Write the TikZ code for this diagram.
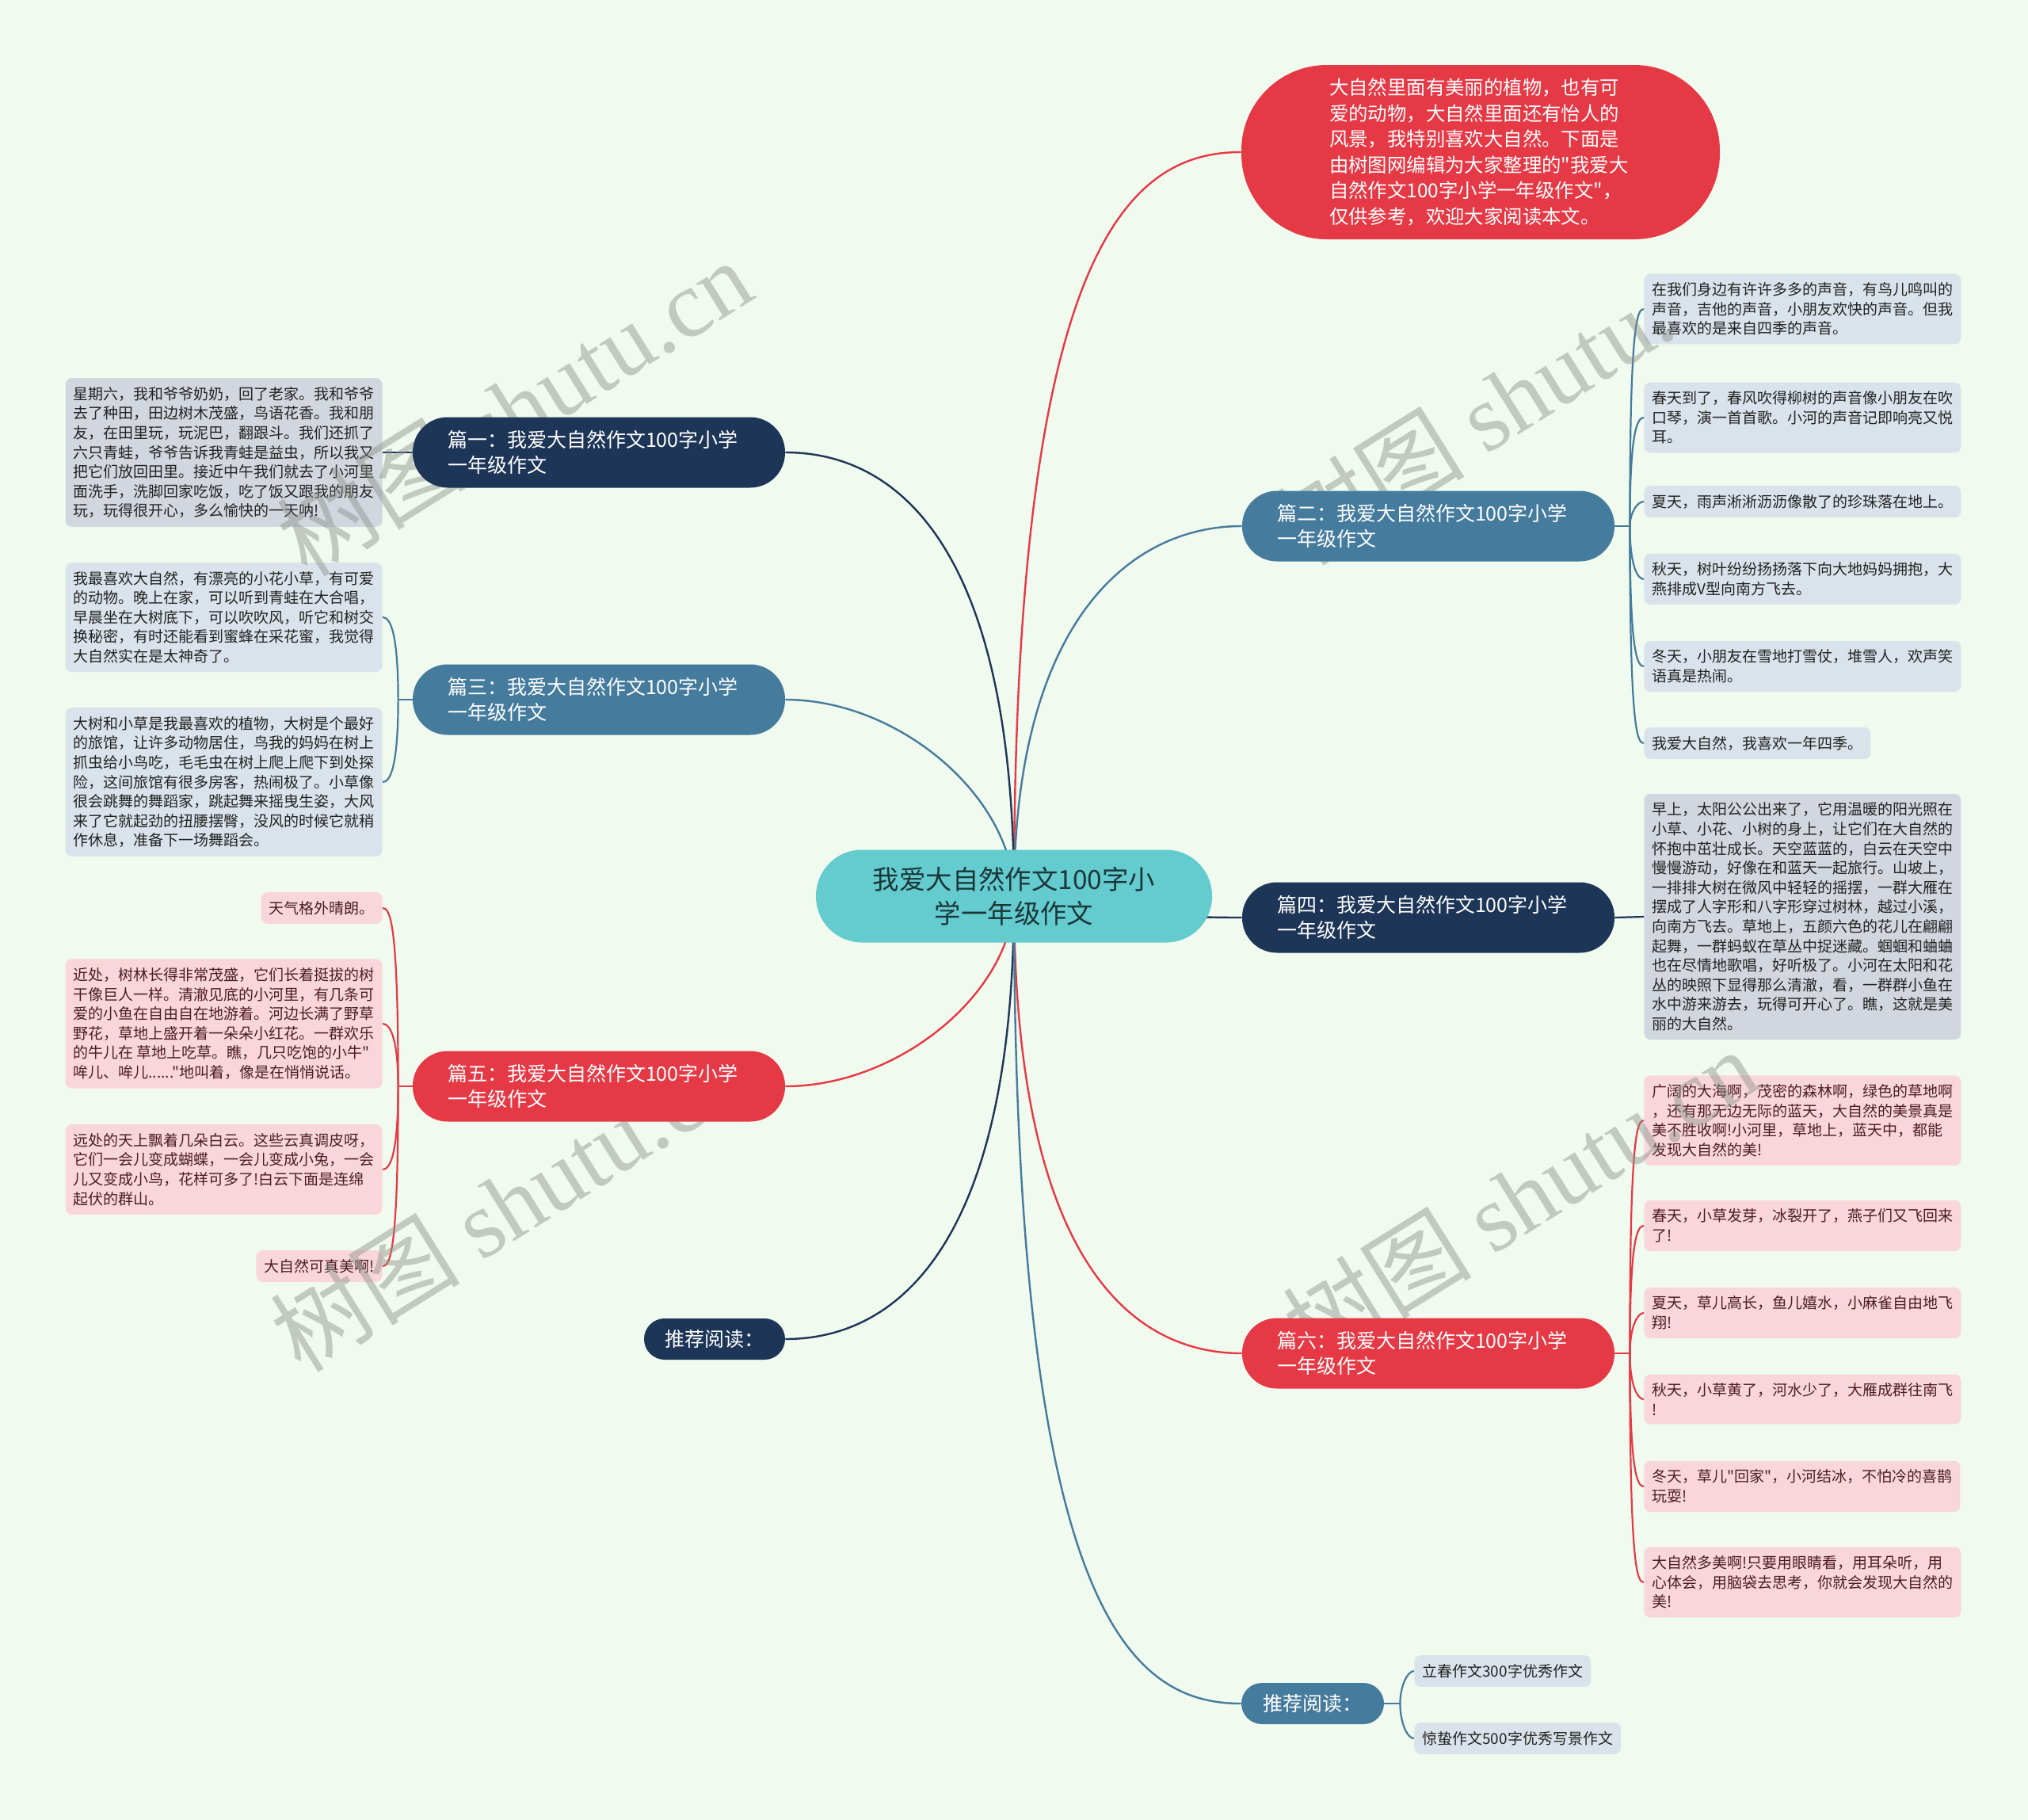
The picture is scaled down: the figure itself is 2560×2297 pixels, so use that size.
\documentclass[tikz,border=0pt]{standalone}
\usepackage{fontspec}
\setmainfont{Noto Sans CJK SC}
\newfontfamily\cjkfont{Noto Sans CJK SC}
\newfontfamily\wmserif{Liberation Serif}
\usetikzlibrary{calc}
\definecolor{bgc}{HTML}{F1FAEE}
\definecolor{navyc}{HTML}{1D3557}
\definecolor{steelc}{HTML}{457B9D}
\definecolor{redc}{HTML}{E63946}
\definecolor{rootc}{HTML}{64CBCE}
\definecolor{roottext}{HTML}{1C3739}
\definecolor{leafnavy}{HTML}{D2D7DF}
\definecolor{leafsteel}{HTML}{DAE3EB}
\definecolor{leafred}{HTML}{F9D6DB}
\definecolor{txtdark}{HTML}{222222}
\definecolor{txtred}{HTML}{4A1D23}
\definecolor{wmc}{HTML}{8A908A}
\pgfdeclarelayer{bgl}
\pgfdeclarelayer{edges}
\pgfdeclarelayer{wm}
\pgfdeclarelayer{top}
\pgfsetlayers{bgl,edges,main,wm,top}
\tikzset{
  leafbox/.style={rounded corners=4pt, inner xsep=5pt, inner ysep=5.5pt, align=left, font=\cjkfont\fontsize{9.5}{12.3}\selectfont},
  leafN/.style={leafbox, fill=leafnavy, text=txtdark},
  leafS/.style={leafbox, fill=leafsteel, text=txtdark},
  leafR/.style={leafbox, fill=leafred, text=txtred},
  branch/.style={rounded corners=22pt, text=white, minimum height=44.5pt, inner xsep=22pt, inner ysep=4pt, text width=191pt, align=left, font=\cjkfont\fontsize{12.5}{16.3}\selectfont},
  recbox/.style={rounded corners=13pt, text=white, minimum height=26pt, minimum width=89pt, inner xsep=4pt, inner ysep=2pt, align=center, font=\cjkfont\fontsize{12.5}{16.3}\selectfont},
  conn/.style={line width=1.2pt},
  sub/.style={line width=1.1pt},
  wmark/.style={text=wmc, text opacity=0.45, rotate=32, font=\cjkfont\fontsize{60}{60}\selectfont, inner sep=0pt},
}
\newcommand\mcurve[5]{\draw[#1,#2] let \p1=(#3), \p2=(#4) in (\p1) .. controls (\x1,{\y2+max(-#5,min(#5,0.5*((\y1)-(\y2))))}) and ({0.5*((\x1)+(\x2))},\y2) .. (\p2);}
\begin{document}
\cjkfont
\begin{tikzpicture}[x=0.5pt,y=-0.5pt]
\useasboundingbox (0,0) rectangle (2560,2297);
\begin{pgfonlayer}{bgl}
\fill[bgc] (0,0) rectangle (2560,2297);
\end{pgfonlayer}

\begin{pgfonlayer}{top}
\node[fill=rootc, text=roottext, rounded corners=29pt, minimum width=250pt, minimum height=58.5pt, align=center, font=\cjkfont\fontsize{16.7}{21.3}\selectfont] (root) at (1280,1131) {我爱大自然作文100字小\\学一年级作文};
\node[fill=redc, text=white, rounded corners=54pt, minimum height=110pt, inner xsep=55.5pt, inner ysep=6pt, text width=191pt, align=left, font=\cjkfont\fontsize{12.2}{16.3}\selectfont] (intro) at (1869,192) {大自然里面有美丽的植物，也有可\\爱的动物，大自然里面还有怡人的\\风景，我特别喜欢大自然。下面是\\由树图网编辑为大家整理的"我爱大\\自然作文100字小学一年级作文"，\\仅供参考，欢迎大家阅读本文。};
\node[branch, fill=navyc] (b1) at (756,571) {篇一：我爱大自然作文100字小学\\一年级作文};
\node[branch, fill=steelc] (b2) at (1803,664) {篇二：我爱大自然作文100字小学\\一年级作文};
\node[branch, fill=steelc] (b3) at (756,883) {篇三：我爱大自然作文100字小学\\一年级作文};
\node[branch, fill=navyc] (b4) at (1803,1158) {篇四：我爱大自然作文100字小学\\一年级作文};
\node[branch, fill=redc] (b5) at (756,1371) {篇五：我爱大自然作文100字小学\\一年级作文};
\node[branch, fill=redc] (b6) at (1803,1708) {篇六：我爱大自然作文100字小学\\一年级作文};
\node[recbox, fill=navyc] (r1) at (902,1690) {推荐阅读：};
\node[recbox, fill=steelc, minimum width=90pt] (r2) at (1657,2150) {推荐阅读：};
\end{pgfonlayer}

% leaves (main layer)
\node[leafN, anchor=east] (L1) at (483,571) {星期六，我和爷爷奶奶，回了老家。我和爷爷\\去了种田，田边树木茂盛，鸟语花香。我和朋\\友，在田里玩，玩泥巴，翻跟斗。我们还抓了\\六只青蛙，爷爷告诉我青蛙是益虫，所以我又\\把它们放回田里。接近中午我们就去了小河里\\面洗手，洗脚回家吃饭，吃了饭又跟我的朋友\\玩，玩得很开心，多么愉快的一天呐!};
\node[leafS, anchor=east] (L3a) at (483,779) {我最喜欢大自然，有漂亮的小花小草，有可爱\\的动物。晚上在家，可以听到青蛙在大合唱，\\早晨坐在大树底下，可以吹吹风，听它和树交\\换秘密，有时还能看到蜜蜂在采花蜜，我觉得\\大自然实在是太神奇了。};
\node[leafS, anchor=east] (L3b) at (483,987) {大树和小草是我最喜欢的植物，大树是个最好\\的旅馆，让许多动物居住，鸟我的妈妈在树上\\抓虫给小鸟吃，毛毛虫在树上爬上爬下到处探\\险，这间旅馆有很多房客，热闹极了。小草像\\很会跳舞的舞蹈家，跳起舞来摇曳生姿，大风\\来了它就起劲的扭腰摆臀，没风的时候它就稍\\作休息，准备下一场舞蹈会。};
\node[leafR, anchor=east] (L5a) at (483,1146) {天气格外晴朗。};
\node[leafR, anchor=east] (L5b) at (483,1292) {近处，树林长得非常茂盛，它们长着挺拔的树\\干像巨人一样。清澈见底的小河里，有几条可\\爱的小鱼在自由自在地游着。河边长满了野草\\野花，草地上盛开着一朵朵小红花。一群欢乐\\的牛儿在 草地上吃草。瞧，几只吃饱的小牛"\\哞儿、哞儿......"地叫着，像是在悄悄说话。};
\node[leafR, anchor=east] (L5c) at (483,1476) {远处的天上飘着几朵白云。这些云真调皮呀，\\它们一会儿变成蝴蝶，一会儿变成小兔，一会\\儿又变成小鸟，花样可多了!白云下面是连绵\\起伏的群山。};
\node[leafR, anchor=east] (L5d) at (483,1598) {大自然可真美啊!};

\node[leafS, anchor=west] (R2a) at (2075,390) {在我们身边有许许多多的声音，有鸟儿鸣叫的\\声音，吉他的声音，小朋友欢快的声音。但我\\最喜欢的是来自四季的声音。};
\node[leafS, anchor=west] (R2b) at (2075,527) {春天到了，春风吹得柳树的声音像小朋友在吹\\口琴，演一首首歌。小河的声音记即响亮又悦\\耳。};
\node[leafS, anchor=west] (R2c) at (2075,633) {夏天，雨声淅淅沥沥像散了的珍珠落在地上。};
\node[leafS, anchor=west] (R2d) at (2075,731) {秋天，树叶纷纷扬扬落下向大地妈妈拥抱，大\\燕排成V型向南方飞去。};
\node[leafS, anchor=west] (R2e) at (2075,841) {冬天，小朋友在雪地打雪仗，堆雪人，欢声笑\\语真是热闹。};
\node[leafS, anchor=west] (R2f) at (2075,938) {我爱大自然，我喜欢一年四季。};

\node[leafN, anchor=west] (R4) at (2075,1157) {早上，太阳公公出来了，它用温暖的阳光照在\\小草、小花、小树的身上，让它们在大自然的\\怀抱中茁壮成长。天空蓝蓝的，白云在天空中\\慢慢游动，好像在和蓝天一起旅行。山坡上，\\一排排大树在微风中轻轻的摇摆，一群大雁在\\摆成了人字形和八字形穿过树林，越过小溪，\\向南方飞去。草地上，五颜六色的花儿在翩翩\\起舞，一群蚂蚁在草丛中捉迷藏。蝈蝈和蛐蛐\\也在尽情地歌唱，好听极了。小河在太阳和花\\丛的映照下显得那么清澈，看，一群群小鱼在\\水中游来游去，玩得可开心了。瞧，这就是美\\丽的大自然。};

\node[leafR, anchor=west] (R6a) at (2075,1414) {广阔的大海啊，茂密的森林啊，绿色的草地啊\\，还有那无边无际的蓝天，大自然的美景真是\\美不胜收啊!小河里，草地上，蓝天中，都能\\发现大自然的美!};
\node[leafR, anchor=west] (R6b) at (2075,1547) {春天，小草发芽，冰裂开了，燕子们又飞回来\\了!};
\node[leafR, anchor=west] (R6c) at (2075,1657) {夏天，草儿高长，鱼儿嬉水，小麻雀自由地飞\\翔!};
\node[leafR, anchor=west] (R6d) at (2075,1766) {秋天，小草黄了，河水少了，大雁成群往南飞\\!};
\node[leafR, anchor=west] (R6e) at (2075,1876) {冬天，草儿"回家"，小河结冰，不怕冷的喜鹊\\玩耍!};
\node[leafR, anchor=west] (R6f) at (2075,1997) {大自然多美啊!只要用眼睛看，用耳朵听，用\\心体会，用脑袋去思考，你就会发现大自然的\\美!};

\node[leafS, anchor=west] (RR1) at (1785,2109) {立春作文300字优秀作文};
\node[leafS, anchor=west] (RR2) at (1785,2194) {惊蛰作文500字优秀写景作文};

% watermarks
\begin{pgfonlayer}{wm}
\node[wmark] (wm1) at (649,514) {树图 {\wmserif shutu.cn}};
\node[wmark] (wm2) at (641,1518) {树图 {\wmserif shutu.cn}};
\node[wmark] (wm3) at (1861,530) {树图 {\wmserif shutu.}};
\node[wmark] (wm4) at (1918,1510) {树图 {\wmserif shutu.cn}};
\end{pgfonlayer}

% connectors
\coordinate (s2) at ([xshift=9.5pt]b2.east);
\coordinate (s3) at ([xshift=-9pt]b3.west);
\coordinate (s5) at ([xshift=-9pt]b5.west);
\coordinate (s6) at ([xshift=9.5pt]b6.east);
\coordinate (sr) at ([xshift=10pt]r2.east);
\begin{pgfonlayer}{edges}
\mcurve{conn}{redc}{root.center}{intro.west}{62pt}
\mcurve{conn}{navyc}{root.center}{b1.east}{62pt}
\mcurve{conn}{steelc}{root.center}{b2.west}{62pt}
\mcurve{conn}{steelc}{root.center}{b3.east}{62pt}
\mcurve{conn}{navyc}{root.center}{b4.west}{62pt}
\mcurve{conn}{redc}{root.center}{b5.east}{62pt}
\mcurve{conn}{redc}{root.center}{b6.west}{62pt}
\mcurve{conn}{navyc}{root.center}{r1.east}{62pt}
\mcurve{conn}{steelc}{root.center}{r2.west}{62pt}

\draw[sub,navyc] (b1.west) -- (L1.east);
\draw[sub,navyc] (b4.east) -- (R4.west);

\draw[sub,steelc] (b2.east) -- (s2);
\mcurve{sub}{steelc}{s2}{R2a.west}{10pt}
\mcurve{sub}{steelc}{s2}{R2b.west}{10pt}
\mcurve{sub}{steelc}{s2}{R2c.west}{10pt}
\mcurve{sub}{steelc}{s2}{R2d.west}{10pt}
\mcurve{sub}{steelc}{s2}{R2e.west}{10pt}
\mcurve{sub}{steelc}{s2}{R2f.west}{10pt}

\draw[sub,steelc] (b3.west) -- (s3);
\mcurve{sub}{steelc}{s3}{L3a.east}{10pt}
\mcurve{sub}{steelc}{s3}{L3b.east}{10pt}

\draw[sub,redc] (b5.west) -- (s5);
\mcurve{sub}{redc}{s5}{L5a.east}{10pt}
\mcurve{sub}{redc}{s5}{L5b.east}{10pt}
\mcurve{sub}{redc}{s5}{L5c.east}{10pt}
\mcurve{sub}{redc}{s5}{L5d.east}{10pt}

\draw[sub,redc] (b6.east) -- (s6);
\mcurve{sub}{redc}{s6}{R6a.west}{10pt}
\mcurve{sub}{redc}{s6}{R6b.west}{10pt}
\mcurve{sub}{redc}{s6}{R6c.west}{10pt}
\mcurve{sub}{redc}{s6}{R6d.west}{10pt}
\mcurve{sub}{redc}{s6}{R6e.west}{10pt}
\mcurve{sub}{redc}{s6}{R6f.west}{10pt}

\draw[sub,steelc] (r2.east) -- (sr);
\mcurve{sub}{steelc}{sr}{RR1.west}{10pt}
\mcurve{sub}{steelc}{sr}{RR2.west}{10pt}
\end{pgfonlayer}
\end{tikzpicture}
\end{document}
